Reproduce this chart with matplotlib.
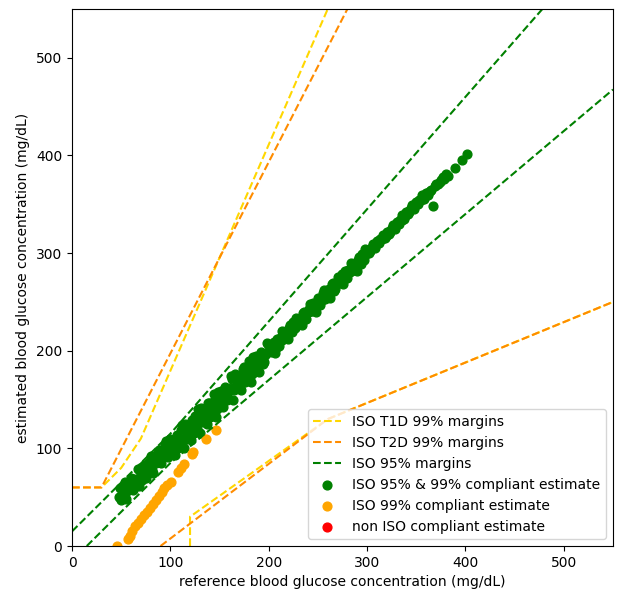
import matplotlib
matplotlib.use('Agg')
import matplotlib.pyplot as plt

# margin boundaries (mg/dL)
t1d_upper_x = [0, 30, 50, 70, 260]
t1d_upper_y = [60, 60, 80, 110, 550]
t1d_lower_x = [120, 120, 260, 550]
t1d_lower_y = [0, 30, 130, 250]

t2d_upper_x = [0, 30, 280]
t2d_upper_y = [60, 60, 550]
t2d_lower_x = [90, 260, 550]
t2d_lower_y = [0, 130, 250]

iso95_upper_x = [0, 100, 550]
iso95_upper_y = [15, 115, 632.5]
iso95_lower_x = [15, 100, 550]
iso95_lower_y = [0, 85, 467.5]

# estimates inside the 95% margins
green_ref = [48, 49, 50, 51, 52, 54, 55, 57, 58, 60, 62, 63, 65, 67, 68, 70, 72, 73, 75, 77,
             79, 80, 82, 84, 86, 88, 90, 92, 94, 96, 98,
             100, 102, 103, 105, 107, 108, 110, 112, 114, 115, 117, 119, 121, 122, 124, 126, 128, 130,
             131, 133, 135, 137, 139, 140, 142, 144, 146, 148, 150, 152, 154, 156, 158, 160, 162, 164,
             166, 168, 170, 172, 174, 176, 178, 180, 182, 184, 186, 188, 190, 192, 194, 196, 198,
             200, 202, 204, 206, 208, 210, 212, 214, 216, 218, 220, 222, 224, 226, 228, 230, 232, 234,
             236, 238, 240, 242, 244, 246, 248, 250, 252, 254, 256, 258, 260, 262, 264, 266, 268, 270,
             272, 274, 276, 278, 280, 282, 284, 286, 288, 290, 292, 294, 296, 298,
             300, 302, 304, 306, 308, 310, 312, 314, 316, 318, 320, 322, 324, 326, 328, 330, 332, 334,
             336, 338, 340, 342, 344, 346, 348, 350, 352, 354, 356, 358, 360, 362,
             365, 367, 369, 372, 375, 378, 382, 389, 397, 402]
green_est = [50, 59, 47, 57, 51, 66, 48, 61, 60, 70, 57, 69, 64, 79, 61, 74, 74, 83, 70, 83,
             78, 92, 75, 88, 88, 98, 85, 98, 93, 108, 91,
             110, 98, 106, 93, 114, 100, 110, 124, 100, 125, 113, 122, 109, 129, 116, 126, 140, 116,
             141, 129, 138, 125, 146, 132, 142, 156, 132, 158, 146, 155, 142, 163, 150, 160, 174, 150,
             176, 164, 173, 160, 181, 168, 178, 190, 168, 194, 182, 191, 178, 199, 186, 196, 208,
             206, 199, 206, 198, 212, 205, 212, 220, 213, 220, 212, 226, 219, 226, 234, 227, 234, 226,
             240, 233, 240, 248, 241, 248, 240, 254, 247, 254, 262, 255, 262, 254, 268, 261, 268, 276,
             269, 276, 268, 282, 275, 282, 290, 283, 290, 282, 296, 289, 296, 304,
             302, 300, 304, 309, 305, 312, 310, 314, 319, 315, 322, 320, 324, 329, 325, 332, 330, 334,
             339, 335, 342, 340, 344, 349, 345, 352, 350, 354, 359, 355, 362, 360,
             365, 348, 369, 371, 375, 376, 379, 387, 395, 401]

# more of the same band (odd reference values)
green_ref_2 = [53, 56, 59, 61, 64, 66, 69, 71, 74, 76, 78, 81, 83, 85, 87, 89, 91, 93, 95, 97, 99,
               101, 104, 106, 109, 111, 113, 116, 118, 120, 123, 125, 127, 129, 132, 134, 136, 138,
               141, 143, 145, 147, 149, 151, 153, 155, 157, 159, 161, 163, 165, 167, 169, 171, 173,
               175, 177, 179, 181, 183, 185, 187, 189, 191, 193, 195, 197, 199,
               201, 203, 205, 207, 209, 211, 213, 215, 217, 219, 221, 223, 225, 227, 229, 231, 233,
               235, 237, 239, 241, 243, 245, 247, 249, 251, 253, 255, 257, 259, 261, 263, 265, 267,
               269, 271, 273, 275, 277, 279, 281, 283, 285, 287, 289, 291, 293, 295, 297, 299,
               301, 303, 305, 307, 309, 311, 313, 315, 317, 319, 321, 323, 325, 327, 329, 331, 333,
               335, 337, 339, 341, 343, 345, 347, 349, 351, 353, 355, 357, 359, 361,
               364, 370, 374, 377, 380]
green_est_2 = [57, 56, 67, 58, 68, 66, 77, 68, 78, 76, 86, 78, 87, 85, 95, 86, 95, 93, 103, 94, 103,
               106, 102, 99, 110, 119, 108, 121, 116, 113, 124, 133, 122, 134, 130, 127, 137, 146,
               136, 148, 143, 140, 150, 159, 148, 160, 155, 152, 162, 171, 160, 172, 167, 164, 174,
               183, 172, 184, 179, 176, 186, 195, 184, 196, 191, 188, 198, 207,
               203, 201, 209, 203, 209, 213, 211, 219, 213, 219, 223, 221, 229, 223, 229, 233, 231,
               239, 233, 239, 243, 241, 249, 243, 249, 253, 251, 259, 253, 259, 263, 261, 269, 263,
               269, 273, 271, 279, 273, 279, 283, 281, 289, 283, 289, 293, 291, 299, 293, 299,
               302, 302, 306, 306, 310, 310, 314, 314, 318, 318, 322, 322, 326, 326, 330, 330, 334,
               334, 338, 338, 342, 342, 346, 346, 350, 350, 354, 354, 358, 358, 362,
               364, 371, 373, 378, 381]

# estimates only inside the 99% margins
orange_ref = [46, 57, 59, 61, 64, 67, 70, 73, 76, 79, 82, 85, 88, 91, 94, 97, 101, 108, 111, 114,
              122, 123, 136, 146]
orange_est = [0, 7, 10, 15, 20, 24, 28, 32, 35, 39, 43, 47, 51, 55, 59, 63, 66, 76, 80, 84,
              94, 96, 110, 119]

# estimates outside all margins (none)
red_ref = []
red_est = []

fig = plt.figure(figsize=(6.17, 5.91), dpi=100)
ax = fig.add_axes([0.1167, 0.0761, 0.8768, 0.9087])

ax.plot(t1d_upper_x, t1d_upper_y, '--', color='gold', label='ISO T1D 99% margins')
ax.plot(t1d_lower_x, t1d_lower_y, '--', color='gold')
ax.plot(t2d_upper_x, t2d_upper_y, '--', color='darkorange', label='ISO T2D 99% margins')
ax.plot(t2d_lower_x, t2d_lower_y, '--', color='darkorange')
ax.plot(iso95_upper_x, iso95_upper_y, '--', color='green', label='ISO 95% margins')
ax.plot(iso95_lower_x, iso95_lower_y, '--', color='green')

ax.scatter(green_ref + green_ref_2, green_est + green_est_2, c='green', s=40,
           label='ISO 95% & 99% compliant estimate')
ax.scatter(orange_ref, orange_est, c='orange', s=40, label='ISO 99% compliant estimate')
ax.scatter(red_ref, red_est, c='red', s=40, label='non ISO compliant estimate')

ax.set_xlim(0, 550)
ax.set_ylim(0, 550)
ax.set_xlabel('reference blood glucose concentration (mg/dL)')
ax.set_ylabel('estimated blood glucose concentration (mg/dL)')
ax.legend(loc='lower right')

fig.savefig('out.png')
